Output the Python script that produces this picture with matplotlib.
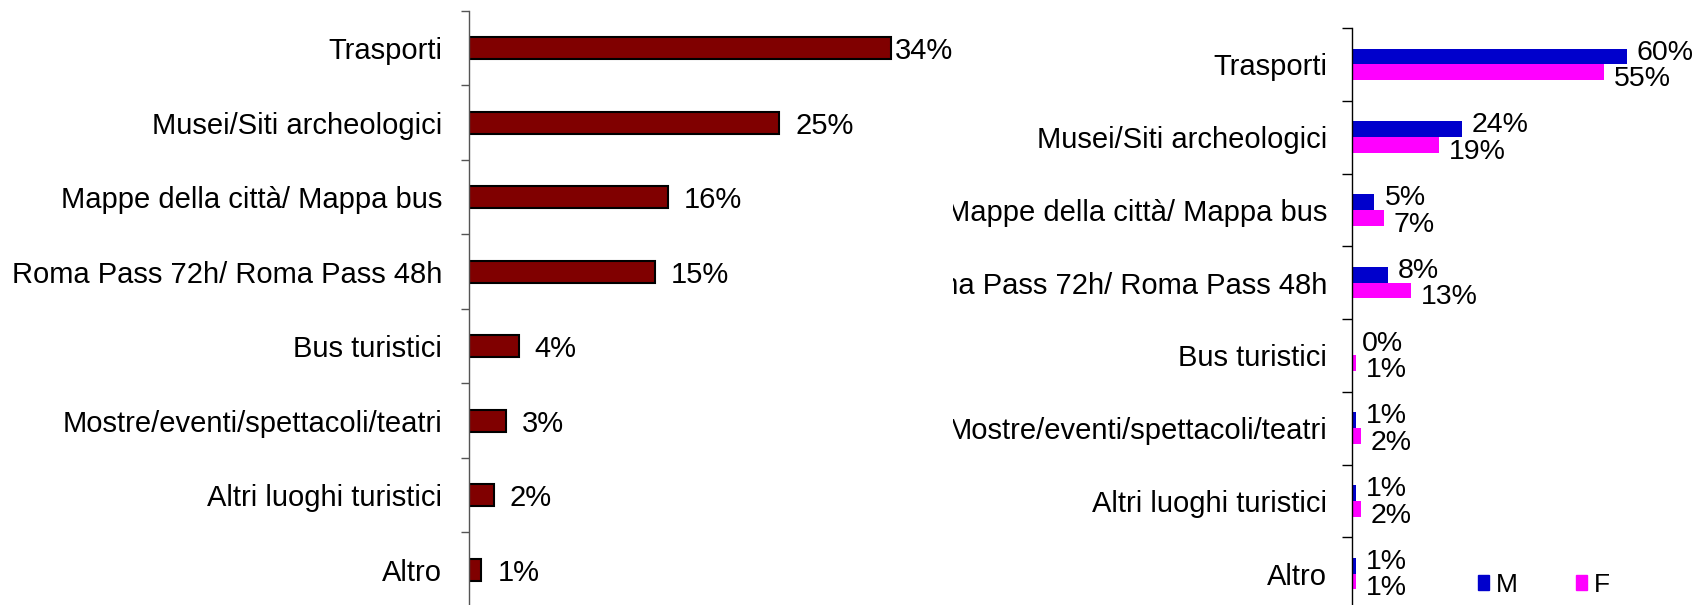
import matplotlib
matplotlib.use("Agg")
import matplotlib.pyplot as plt
from matplotlib.patches import Patch
from matplotlib.transforms import Bbox, TransformedBbox
import numpy as np

# Servizi utilizzati (percentuali)
categories = [
    "Trasporti",
    "Musei/Siti archeologici",
    "Mappe della città/ Mappa bus",
    "Roma Pass 72h/ Roma Pass 48h",
    "Bus turistici",
    "Mostre/eventi/spettacoli/teatri",
    "Altri luoghi turistici",
    "Altro",
]
totale = [34, 25, 16, 15, 4, 3, 2, 1]
maschi = [60, 24, 5, 8, 0, 1, 1, 1]
femmine = [55, 19, 7, 13, 1, 2, 2, 1]
series_names = ["M", "F"]

plt.rcParams["font.family"] = ["Liberation Sans", "DejaVu Sans"]

W, H = 1702, 605
fig = plt.figure(figsize=(W / 100, H / 100), dpi=100)


def px(v):
    """pixels -> points"""
    return v * 72.0 / 100.0


def axes_px(x0, x1, top, bottom):
    return fig.add_axes([x0 / W, 1 - bottom / H, (x1 - x0) / W, (bottom - top) / H])


def style_axis(ax, n, spine_color, tick_len, pad_px):
    ax.set_ylim(n - 0.5, -0.5)
    for side in ("top", "right", "bottom"):
        ax.spines[side].set_visible(False)
    ax.spines["left"].set_color(spine_color)
    ax.spines["left"].set_linewidth(1.0)
    ax.set_xticks([])
    ax.set_yticks(np.arange(n))
    ax.set_yticklabels(categories, fontsize=21)
    ax.set_yticks(np.arange(n + 1) - 0.5, minor=True)
    ax.tick_params(axis="y", which="major", length=0, pad=px(pad_px))
    ax.tick_params(axis="y", which="minor", length=px(tick_len),
                   color=spine_color, width=1.0)
    ax.set_facecolor("none")


y = np.arange(len(categories))

# --- Totale ---
ax1 = axes_px(469, 953, 11, 607)
ax1.barh(y, totale, height=0.29, color="#800000", edgecolor="black",
         linewidth=1.5, zorder=2)
ax1.set_xlim(0, 39)
style_axis(ax1, len(categories), "#555555", 8, 27)

left_labels = []
for yi, v in zip(y, totale):
    t = ax1.annotate(f"{v}%", xy=(v, yi), xytext=(px(16), px(-3)),
                     textcoords="offset points", ha="left", va="center",
                     fontsize=21)
    left_labels.append(t)

# --- M / F ---
ax2 = axes_px(1351.5, 1700, 28, 610)
h = 0.215
ax2.barh(y - h / 2, maschi, height=h, color="#0000CC", zorder=2)
ax2.barh(y + h / 2, femmine, height=h, color="#FF00FF", zorder=2)
ax2.set_xlim(0, 76)
style_axis(ax2, len(categories), "black", 10, 24.5)

for yi, v in zip(y, maschi):
    ax2.annotate(f"{v}%", xy=(v, yi - h / 2), xytext=(px(10), px(4)),
                 textcoords="offset points", ha="left", va="center",
                 fontsize=20.5)
for yi, v in zip(y, femmine):
    ax2.annotate(f"{v}%", xy=(v, yi + h / 2), xytext=(px(10), px(-7)),
                 textcoords="offset points", ha="left", va="center",
                 fontsize=20.5)

# category labels of the second panel are cut at the panel's left border
clip = TransformedBbox(Bbox([[953 / W, 0], [1, 1]]), fig.transFigure)
for lbl in ax2.get_yticklabels():
    lbl.set_clip_on(True)
    lbl.set_clip_box(clip)

fig.legend(
    handles=[Patch(color="#0000CC", label=series_names[0]),
             Patch(color="#FF00FF", label=series_names[1])],
    ncol=2, frameon=False, loc="center left",
    bbox_to_anchor=(1478 / W, 1 - 585 / H), fontsize=19,
    handlelength=0.42, handleheight=0.5, handletextpad=0.27,
    columnspacing=2.2, borderpad=0, borderaxespad=0,
)

# keep value labels inside the first panel
fig.canvas.draw()
renderer = fig.canvas.get_renderer()
right_edge = ax1.get_window_extent(renderer).x1
for t in left_labels:
    bb = t.get_window_extent(renderer)
    if bb.x1 > right_edge:
        dx, dy = t.xyann
        t.xyann = (dx - px(bb.x1 - right_edge), dy)

fig.savefig("out.png", dpi=100, facecolor="white")
